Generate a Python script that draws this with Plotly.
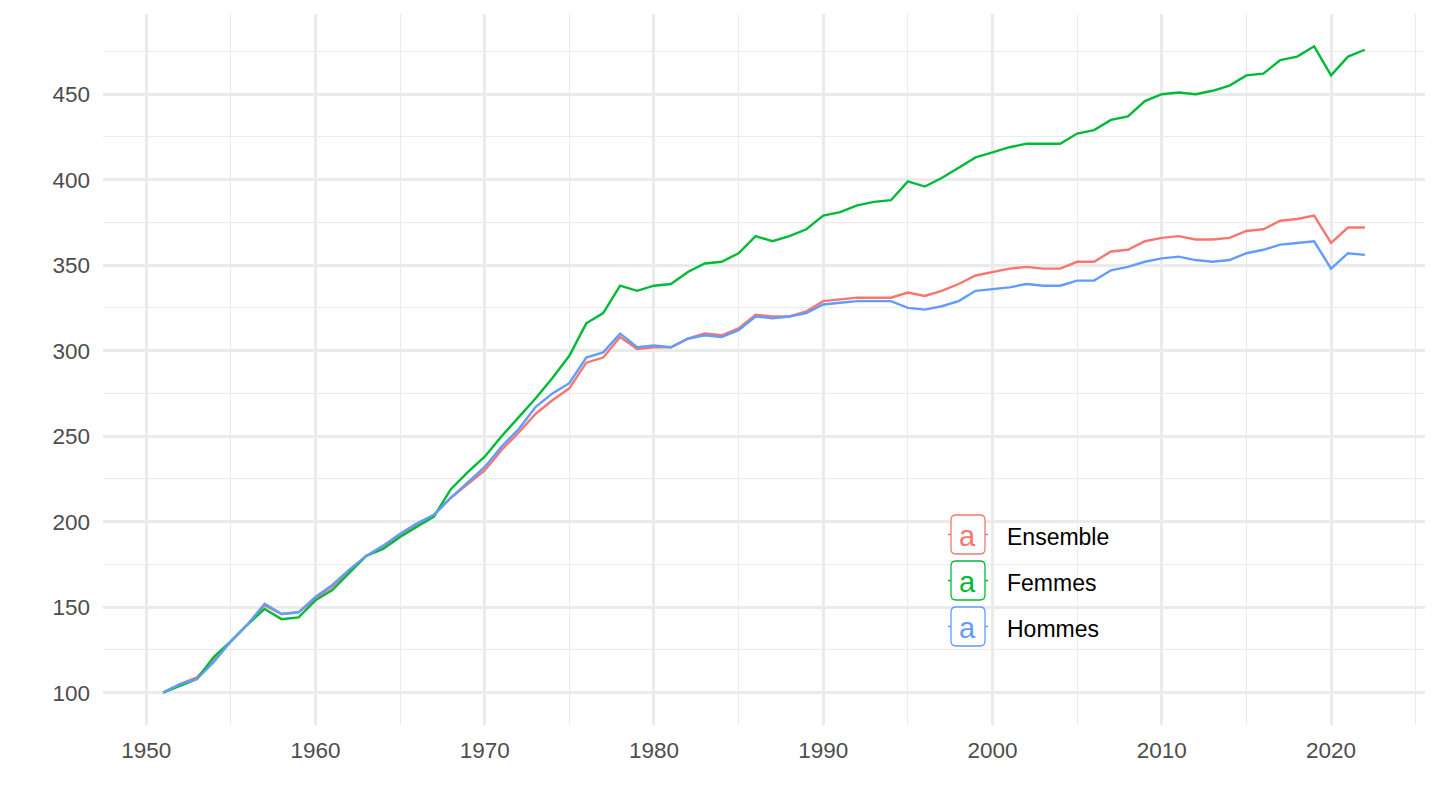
import plotly.graph_objects as go

years = list(range(1951, 2023))

ensemble = [100, 105, 109, 119, 130, 140, 151, 146, 147, 155,
            162, 171, 180, 185, 192, 198, 204, 214, 222, 230,
            242, 252, 263, 271, 278, 293, 296, 308, 301, 302,
            302, 307, 310, 309, 313, 321, 320, 320, 323, 329,
            330, 331, 331, 331, 334, 332, 335, 339, 344, 346,
            348, 349, 348, 348, 352, 352, 358, 359, 364, 366,
            367, 365, 365, 366, 370, 371, 376, 377, 379, 363,
            372, 372]

femmes = [100, 104, 108, 121, 130, 140, 149, 143, 144, 154,
          160, 170, 180, 184, 191, 197, 203, 219, 229, 238,
          250, 261, 272, 284, 297, 316, 322, 338, 335, 338,
          339, 346, 351, 352, 357, 367, 364, 367, 371, 379,
          381, 385, 387, 388, 399, 396, 401, 407, 413, 416,
          419, 421, 421, 421, 427, 429, 435, 437, 446, 450,
          451, 450, 452, 455, 461, 462, 470, 472, 478, 461,
          472, 476]

hommes = [100, 105, 108, 118, 130, 140, 152, 146, 147, 156,
          163, 172, 180, 186, 193, 199, 204, 214, 223, 232,
          244, 254, 267, 275, 281, 296, 299, 310, 302, 303,
          302, 307, 309, 308, 312, 320, 319, 320, 322, 327,
          328, 329, 329, 329, 325, 324, 326, 329, 335, 336,
          337, 339, 338, 338, 341, 341, 347, 349, 352, 354,
          355, 353, 352, 353, 357, 359, 362, 363, 364, 348,
          357, 356]

series_names = ["Ensemble", "Femmes", "Hommes"]
series_values = [ensemble, femmes, hommes]
series_colors = ["#F8766D", "#00BA38", "#619CFF"]

x_ticks = [1950, 1960, 1970, 1980, 1990, 2000, 2010, 2020]
y_ticks = [100, 150, 200, 250, 300, 350, 400, 450]

W, H = 1440, 810
OFF = 8  # page body margin offset
ML, MR, MT, MB = 103 - OFF, 15 + OFF, 14 - OFF, 85 + OFF
PW, PH = W - ML - MR, H - MT - MB

FONT = "Liberation Sans, Arial, Helvetica, sans-serif"

fig = go.Figure()
for name, vals, col in zip(series_names, series_values, series_colors):
    fig.add_trace(go.Scatter(x=years, y=vals, mode="lines", name=name,
                             line=dict(color=col, width=2.4),
                             showlegend=False))

xmin, xmax = min(years), max(years)
allv = ensemble + femmes + hommes
ymin, ymax = min(allv), max(allv)
xpad = (xmax - xmin) * 0.05
ypad = (ymax - ymin) * 0.05

grid_major = "#EBEBEB"

fig.update_layout(
    width=W, height=H,
    margin=dict(l=ML, r=MR, t=MT, b=MB, autoexpand=False),
    paper_bgcolor="white", plot_bgcolor="white",
    font=dict(family=FONT, size=23, color="#4D4D4D"),
    xaxis=dict(range=[xmin - xpad, xmax + xpad], tickvals=x_ticks,
               showgrid=True, gridcolor=grid_major, gridwidth=2.6,
               zeroline=False, showline=False, ticks="",
               automargin=False,
               ticklabelstandoff=9,
               tickfont=dict(size=22.5, color="#4D4D4D"),
               minor=dict(dtick=5, tick0=1955, showgrid=True,
                          gridcolor=grid_major, gridwidth=1.3)),
    yaxis=dict(range=[ymin - ypad, ymax + ypad], tickvals=y_ticks,
               showgrid=True, gridcolor=grid_major, gridwidth=2.6,
               zeroline=False, showline=False, ticks="",
               automargin=False,
               ticklabelstandoff=12,
               tickfont=dict(size=22.5, color="#4D4D4D"),
               minor=dict(dtick=25, tick0=125, showgrid=True,
                          gridcolor=grid_major, gridwidth=1.3)),
)


def px2paper(px, py):
    # px, py are screen pixel positions (page offset included)
    fx, fy = px - OFF, py - OFF
    return (fx - ML) / PW, (H - MB - fy) / PH


box_w, box_h, rad = 34, 39, 5
key_left = 951
row_top0 = 515
row_step = 46
shapes = []
annotations = []
for i, (name, col) in enumerate(zip(series_names, series_colors)):
    top = row_top0 + i * row_step
    bot = top + box_h
    left = key_left
    right = key_left + box_w
    cy = (top + bot) / 2
    sx0, sy = px2paper(left - 3, cy)
    sx1, _ = px2paper(right + 3, cy)
    shapes.append(dict(type="line", xref="paper", yref="paper",
                       x0=sx0, x1=sx1, y0=sy, y1=sy,
                       line=dict(color=col, width=1.5), layer="above"))
    pts = [
        ("M", [(left + rad, top)]),
        ("L", [(right - rad, top)]),
        ("Q", [(right, top), (right, top + rad)]),
        ("L", [(right, bot - rad)]),
        ("Q", [(right, bot), (right - rad, bot)]),
        ("L", [(left + rad, bot)]),
        ("Q", [(left, bot), (left, bot - rad)]),
        ("L", [(left, top + rad)]),
        ("Q", [(left, top), (left + rad, top)]),
    ]
    path = ""
    for cmd, plist in pts:
        coords = []
        for (px, py) in plist:
            ax, ay = px2paper(px, py)
            coords.append(f"{ax:.5f},{ay:.5f}")
        path += cmd + " " + " ".join(coords) + " "
    path += "Z"
    shapes.append(dict(type="path", xref="paper", yref="paper", path=path,
                       fillcolor="white", line=dict(color=col, width=1.3),
                       layer="above"))
    ax, ay = px2paper((left + right) / 2, cy + 1)
    annotations.append(dict(text="a", xref="paper", yref="paper",
                            x=ax, y=ay, xanchor="center", yanchor="middle",
                            showarrow=False,
                            font=dict(family=FONT, size=29, color=col)))
    tx, ty = px2paper(1005, cy + 2)
    annotations.append(dict(text=name, xref="paper", yref="paper",
                            x=tx, y=ty, xanchor="left", yanchor="middle",
                            showarrow=False,
                            font=dict(family=FONT, size=23, color="black")))

fig.update_layout(shapes=shapes, annotations=annotations)

fig.write_html("out.html")
